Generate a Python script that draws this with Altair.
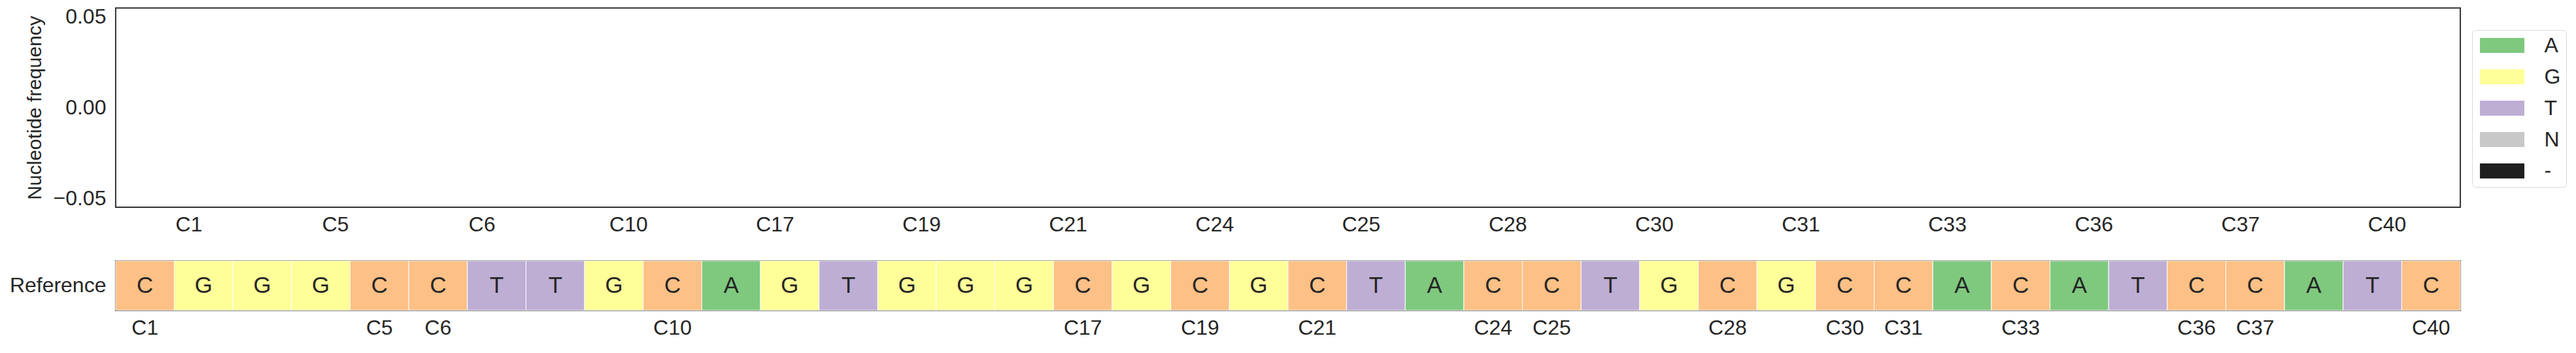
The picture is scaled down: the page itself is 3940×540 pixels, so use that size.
import altair as alt
import pandas as pd

# ---- data -------------------------------------------------------------
ref_positions = list(range(1, 41))
ref_bases = ["C", "G", "G", "G", "C", "C", "T", "T", "G", "C",
             "A", "G", "T", "G", "G", "G", "C", "G", "C", "G",
             "C", "T", "A", "C", "C", "T", "G", "C", "G", "C",
             "C", "A", "C", "A", "T", "C", "C", "A", "T", "C"]

top_positions = ["C1", "C5", "C6", "C10", "C17", "C19", "C21", "C24",
                 "C25", "C28", "C30", "C31", "C33", "C36", "C37", "C40"]

nucleotides = ["A", "G", "T", "N", "-"]
nuc_colors = ["#7fc97f", "#ffff99", "#beaed4", "#c8c8c8", "#1f1f1f"]

freq_A = [0, 0, 0, 0, 0, 0, 0, 0, 0, 0, 0, 0, 0, 0, 0, 0]
freq_G = [0, 0, 0, 0, 0, 0, 0, 0, 0, 0, 0, 0, 0, 0, 0, 0]
freq_T = [0, 0, 0, 0, 0, 0, 0, 0, 0, 0, 0, 0, 0, 0, 0, 0]
freq_N = [0, 0, 0, 0, 0, 0, 0, 0, 0, 0, 0, 0, 0, 0, 0, 0]
freq_gap = [0, 0, 0, 0, 0, 0, 0, 0, 0, 0, 0, 0, 0, 0, 0, 0]

base_domain = ["A", "C", "G", "T", "N", "-"]
base_colors = ["#7fc97f", "#fdc086", "#ffff99", "#beaed4", "#c8c8c8", "#1f1f1f"]

y_ticks = [-0.05, 0.0, 0.05]

TEXT = "#262626"
FONT = "Liberation Sans"

# ---- tables -------------------------------------------------------------
rows = []
for nuc, freqs in zip(nucleotides, [freq_A, freq_G, freq_T, freq_N, freq_gap]):
    for p, f in zip(top_positions, freqs):
        rows.append({"position": p, "nucleotide": nuc, "frequency": f,
                     "order": nucleotides.index(nuc)})
top_df = pd.DataFrame(rows)

ref_df = pd.DataFrame({"pos": ref_positions, "base": ref_bases,
                       "track": ["Reference"] * len(ref_positions)})
c_positions = [p for p, b in zip(ref_positions, ref_bases) if b == "C"]

# ---- top: frequency bars -------------------------------------------------
top = alt.Chart(top_df).mark_bar().encode(
    x=alt.X("position:N", sort=top_positions,
            scale=alt.Scale(domain=top_positions, paddingInner=0.2, paddingOuter=0.1),
            axis=alt.Axis(title=None, labelAngle=0, ticks=False, tickSize=0,
                          domain=False, labelPadding=12, labelFontSize=32)),
    y=alt.Y("frequency:Q", stack="zero",
            scale=alt.Scale(domain=[-0.055, 0.055], nice=False, zero=False),
            axis=alt.Axis(title="Nucleotide frequency", values=y_ticks, format=".2f",
                          grid=False, ticks=False, tickSize=0, domain=False,
                          labelPadding=15, titlePadding=13, titleFontSize=30,
                          titleFontWeight="normal", labelFontSize=32)),
    color=alt.Color("nucleotide:N",
                    scale=alt.Scale(domain=nucleotides, range=nuc_colors),
                    legend=alt.Legend(title=None, orient="none", legendX=3606, legendY=34,
                                      symbolType="M-1,-0.338H1V0.338H-1Z",
                                      symbolSize=4624, symbolStrokeWidth=0,
                                      symbolOffset=3.5, clipHeight=30,
                                      labelFontSize=32, labelOffset=30.5, labelColor=TEXT,
                                      rowPadding=16, padding=8.5,
                                      fillColor="white", strokeColor="#d9d9d9",
                                      cornerRadius=5)),
    order=alt.Order("order:Q"),
).properties(width=3588, height=305)

# ---- bottom: reference sequence ----------------------------------------
base = alt.Chart(ref_df).encode(
    x=alt.X("pos:O", scale=alt.Scale(paddingInner=0, paddingOuter=0),
            axis=alt.Axis(title=None, values=c_positions, labelExpr="'C' + datum.value",
                          labelAngle=0, ticks=False, tickSize=0, domain=False,
                          labelPadding=12, labelFontSize=32)),
    y=alt.Y("track:N", scale=alt.Scale(paddingInner=0, paddingOuter=0),
            axis=alt.Axis(title=None, ticks=False, tickSize=0, domain=False,
                          labelPadding=15, labelFontSize=32)),
)
cells = base.mark_rect(stroke="white", strokeWidth=1).encode(
    color=alt.Color("base:N", scale=alt.Scale(domain=base_domain, range=base_colors),
                    legend=None)
)
letters = base.mark_text(fontSize=35, color=TEXT, font=FONT).encode(text="base:N")
bottom = (cells + letters).properties(width=3588, height=76)

chart = alt.vconcat(top, bottom, spacing=36).resolve_scale(
    color="independent", x="independent", y="independent"
).configure(
    font=FONT, padding={"left": 5, "top": 0, "right": 5, "bottom": 5}
).configure_view(
    stroke="#333333", strokeWidth=2
).configure_axis(
    labelColor=TEXT, titleColor=TEXT, labelFont=FONT, titleFont=FONT
).configure_legend(
    labelFont=FONT
)

chart.save("out.html", embed_options={"renderer": "svg", "actions": False})
